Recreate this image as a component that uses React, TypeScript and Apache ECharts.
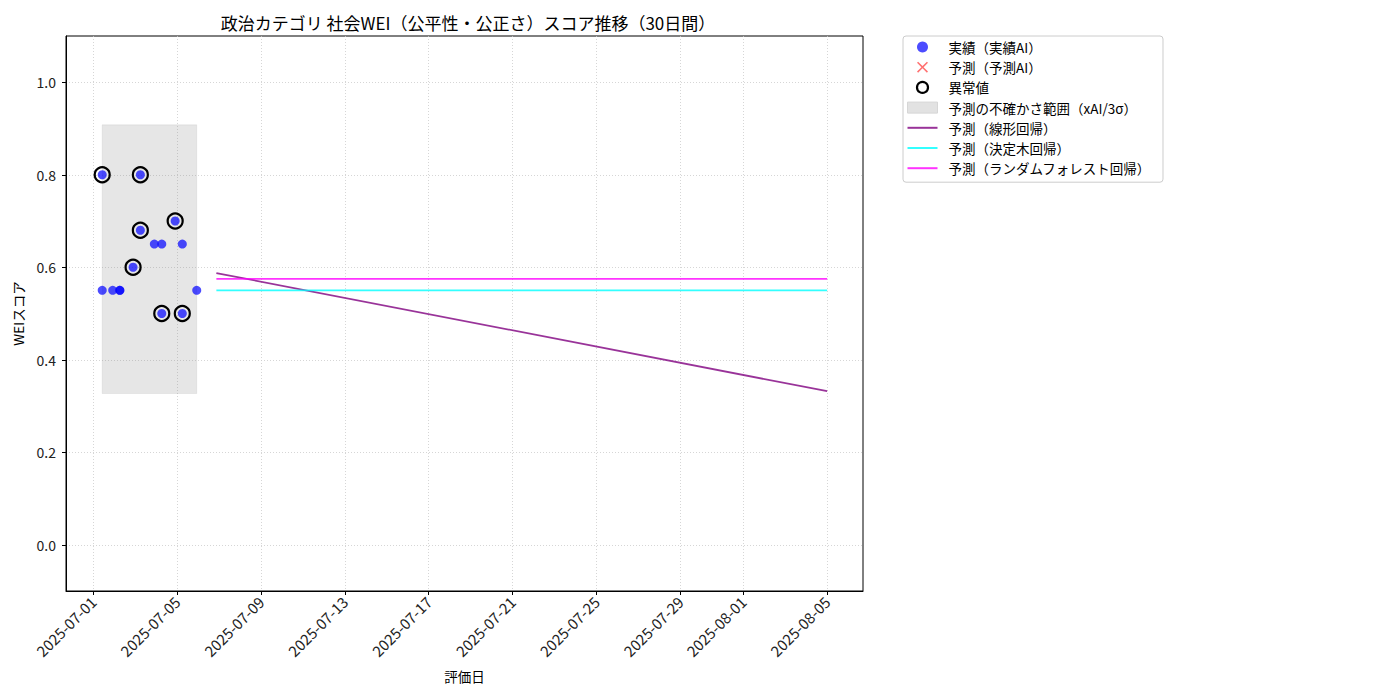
import { useEffect, useRef } from "react";
import * as echarts from "echarts";

// 実績（実績AI）
const actualDates = [
  "2025-07-01 10:20",
  "2025-07-01 10:20",
  "2025-07-01 22:20",
  "2025-07-02 06:30",
  "2025-07-02 06:30",
  "2025-07-02 21:40",
  "2025-07-03 06:00",
  "2025-07-03 06:00",
  "2025-07-03 22:00",
  "2025-07-04 06:30",
  "2025-07-04 06:30",
  "2025-07-04 21:50",
  "2025-07-05 06:00",
  "2025-07-05 06:00",
  "2025-07-05 22:30",
];
const actualScores = [
  0.8, 0.55, 0.55, 0.55, 0.55, 0.6, 0.8, 0.68, 0.65, 0.65, 0.5, 0.7, 0.65, 0.5,
  0.55,
];

// 異常値
const outlierDates = [
  "2025-07-01 10:20",
  "2025-07-02 21:40",
  "2025-07-03 06:00",
  "2025-07-03 06:00",
  "2025-07-04 06:30",
  "2025-07-04 21:50",
  "2025-07-05 06:00",
];
const outlierScores = [0.8, 0.6, 0.8, 0.68, 0.5, 0.7, 0.5];

// 予測の不確かさ範囲
const bandDates = ["2025-07-01 10:20", "2025-07-05 22:30"];
const bandLower = 0.327;
const bandUpper = 0.908;

// 予測
const forecastDates = ["2025-07-06 21:00", "2025-08-05 00:00"];
const linearScores = [0.5875, 0.332];
const treeScores = [0.55, 0.55];
const forestScores = [0.575, 0.575];

const xTickDates = [
  "2025-07-01",
  "2025-07-05",
  "2025-07-09",
  "2025-07-13",
  "2025-07-17",
  "2025-07-21",
  "2025-07-25",
  "2025-07-29",
  "2025-08-01",
  "2025-08-05",
];
const yTicks = [0, 0.2, 0.4, 0.6, 0.8, 1.0];

const toMs = (s: string) =>
  Date.parse(s.length > 10 ? s.replace(" ", "T") + ":00Z" : s + "T00:00:00Z");

const FONT = "'Noto Sans CJK JP', 'Noto Sans', sans-serif";
const X_CROSS =
  "path://M1,0 L5,4 L9,0 L10,1 L6,5 L10,9 L9,10 L5,6 L1,10 L0,9 L4,5 L0,1 Z";
const LINE_ICON = "path://M0,0 L30,0 L30,2 L0,2 Z";

export default function App() {
  const ref = useRef<HTMLDivElement | null>(null);

  useEffect(() => {
    if (!ref.current) return;
    const chart = echarts.init(ref.current, undefined, { renderer: "svg" });

    const xTicks = xTickDates.map(toMs);
    const day = 86400000;
    const xMin = toMs("2025-07-01") - 1.296 * day;
    const xMax = toMs("2025-07-01") + 36.71 * day;

    const splitLine = {
      show: true,
      lineStyle: { color: "#cccccc", width: 0.8, type: [1, 2] as number[] },
    };

    chart.setOption({
      animation: false,
      textStyle: { fontFamily: FONT },
      title: {
        text: "政治カテゴリ 社会WEI（公平性・公正さ）スコア推移（30日間）",
        left: 463,
        textAlign: "center",
        top: 9,
        textStyle: { fontSize: 17, fontWeight: "normal", color: "#000", fontFamily: FONT },
      },
      legend: {
        orient: "vertical",
        left: 903,
        top: 36,
        padding: [4, 12, 7, 4],
        itemWidth: 30,
        itemHeight: 11,
        itemGap: 6.2,
        borderColor: "#cccccc",
        borderWidth: 1,
        borderRadius: 3,
        textStyle: { fontSize: 13.5, color: "#000", lineHeight: 14, padding: [0, 0, 0, 6], fontFamily: FONT },
        data: [
          { name: "実績（実績AI）", icon: "circle" },
          { name: "予測（予測AI）", icon: X_CROSS },
          {
            name: "異常値",
            icon: "circle",
            itemStyle: { color: "rgba(0,0,0,0)", borderColor: "#000", borderWidth: 2.2 },
          },
          {
            name: "予測の不確かさ範囲（xAI/3σ）",
            icon: "rect",
            itemStyle: { color: "#e2e2e2", borderColor: "#d6d6d6", borderWidth: 1 },
          },
          { name: "予測（線形回帰）", icon: LINE_ICON },
          { name: "予測（決定木回帰）", icon: LINE_ICON },
          { name: "予測（ランダムフォレスト回帰）", icon: LINE_ICON },
        ],
      },
      grid: {
        left: 66,
        right: 537,
        top: 36,
        bottom: 109,
        show: true,
        borderColor: "#000",
        borderWidth: 1,
        backgroundColor: "transparent",
      },
      xAxis: {
        type: "value",
        min: xMin,
        max: xMax,
        name: "評価日",
        nameLocation: "middle",
        nameGap: 78,
        nameTextStyle: { fontSize: 13.5, color: "#000", fontFamily: FONT },
        axisLine: { show: true, onZero: false, lineStyle: { color: "#000", width: 1 } },
        axisTick: { show: true, length: 4, customValues: xTicks, lineStyle: { color: "#000" } },
        axisLabel: {
          customValues: xTicks,
          rotate: 45,
          margin: 8,
          fontSize: 15,
          color: "#222",
          fontFamily: FONT,
          formatter: (v: number) => new Date(v).toISOString().slice(0, 10),
        },
        splitLine,
      },
      yAxis: {
        type: "value",
        min: -0.1,
        max: 1.1,
        name: "WEIスコア",
        nameLocation: "middle",
        nameGap: 41,
        nameTextStyle: { fontSize: 13.5, color: "#000", fontFamily: FONT },
        axisLine: { show: true, onZero: false, lineStyle: { color: "#000", width: 1 } },
        axisTick: { show: true, length: 4, customValues: yTicks, lineStyle: { color: "#000" } },
        axisLabel: {
          customValues: yTicks,
          margin: 10,
          fontSize: 14,
          color: "#222",
          fontFamily: FONT,
          formatter: (v: number) => v.toFixed(1),
        },
        splitLine,
      },
      series: [
        {
          name: "予測の不確かさ範囲（xAI/3σ）",
          type: "custom",
          itemStyle: { color: "#e2e2e2" },
          data: [[toMs(bandDates[0]), toMs(bandDates[1]), bandLower, bandUpper]],
          renderItem: (_params: unknown, api: any) => {
            const p1 = api.coord([api.value(0), api.value(3)]);
            const p2 = api.coord([api.value(1), api.value(2)]);
            return {
              type: "rect",
              shape: { x: p1[0], y: p1[1], width: p2[0] - p1[0], height: p2[1] - p1[1] },
              style: { fill: "rgba(128,128,128,0.2)", stroke: "rgba(128,128,128,0.12)", lineWidth: 1 },
            };
          },
          z: 1,
        },
        {
          name: "予測（線形回帰）",
          type: "line",
          symbol: "none",
          lineStyle: { color: "rgba(128,0,128,0.8)", width: 1.8 },
          itemStyle: { color: "rgba(128,0,128,0.8)" },
          data: forecastDates.map((d, i) => [toMs(d), linearScores[i]]),
          z: 2,
        },
        {
          name: "予測（決定木回帰）",
          type: "line",
          symbol: "none",
          lineStyle: { color: "rgba(0,255,255,0.8)", width: 1.8 },
          itemStyle: { color: "rgba(0,255,255,0.8)" },
          data: forecastDates.map((d, i) => [toMs(d), treeScores[i]]),
          z: 2,
        },
        {
          name: "予測（ランダムフォレスト回帰）",
          type: "line",
          symbol: "none",
          lineStyle: { color: "rgba(255,0,255,0.8)", width: 1.8 },
          itemStyle: { color: "rgba(255,0,255,0.8)" },
          data: forecastDates.map((d, i) => [toMs(d), forestScores[i]]),
          z: 2,
        },
        {
          name: "実績（実績AI）",
          type: "scatter",
          symbolSize: 9,
          itemStyle: { color: "rgba(0,0,255,0.7)", opacity: 1 },
          data: actualDates.map((d, i) => [toMs(d), actualScores[i]]),
          z: 3,
        },
        {
          name: "予測（予測AI）",
          type: "scatter",
          symbol: X_CROSS,
          symbolSize: 11,
          itemStyle: { color: "rgba(255,0,0,0.7)" },
          data: [],
          z: 3,
        },
        {
          name: "異常値",
          type: "scatter",
          symbolSize: 15,
          itemStyle: { color: "rgba(0,0,0,0)", borderColor: "#000", borderWidth: 2.2, opacity: 1 },
          data: outlierDates.map((d, i) => [toMs(d), outlierScores[i]]),
          z: 4,
        },
      ],
    });

    return () => chart.dispose();
  }, []);

  return (
    <div
      ref={ref}
      style={{ position: "fixed", left: 0, top: 0, width: 1400, height: 700, background: "#fff" }}
    />
  );
}
